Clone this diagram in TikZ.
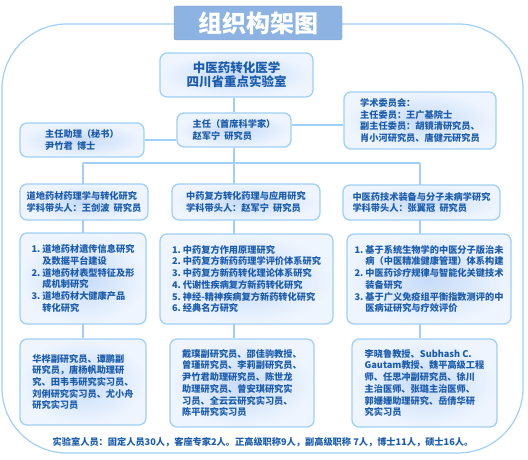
\documentclass[tikz,border=0pt]{standalone}
\usepackage{fontspec}
\setmainfont{Noto Sans CJK SC}
\usepackage{xcolor}
\usepackage{tikz}
\usetikzlibrary{backgrounds}
\definecolor{framecol}{RGB}{160,208,245}
\definecolor{txtcol}{RGB}{28,92,172}
\definecolor{titlecol}{RGB}{141,179,226}
\definecolor{boxin}{RGB}{198,219,249}
\definecolor{boxout}{RGB}{238,245,254}
\newcommand{\subind}{\hphantom{1.\ }}

\begin{document}
\begin{tikzpicture}[
  x=1pt, y=-1pt,
  unitbox/.style={draw=framecol, line width=1.3pt, rounded corners=7pt, inner color=boxin, outer color=boxout,
    text=txtcol, font=\fontsize{9.2}{11.7}\selectfont\bfseries, align=left, inner sep=0pt},
  link/.style={draw=framecol, line width=1.2pt}
]
\useasboundingbox (0,0) rectangle (528,460);

% title and top level
\node[fill=titlecol, draw=titlecol!90!black, rounded corners=2pt, minimum width=168pt, minimum height=34pt,
  text=white, font=\fontsize{24}{24}\selectfont\bfseries] (title) at (258,23) {组织构架图};
\node[unitbox, minimum width=153pt, minimum height=44pt, align=center,
  font=\fontsize{12.5}{14}\selectfont\bfseries] (lab) at (236.5,75) {中医药转化医学\\四川省重点实验室};
\node[unitbox, minimum width=114pt, minimum height=34pt] (director) at (234,130)
  {主任（首席科学家）\\赵军宁\ \ 研究员};
\node[unitbox, minimum width=124pt, minimum height=34pt] (assist) at (82,140)
  {主任助理（秘书）\\尹竹君\ \ 博士};
\node[unitbox, minimum width=152pt, minimum height=57pt] (committee) at (420,120.5)
  {学术委员会：\\主任委员：王广基院士\\副主任委员：胡镜清研究员、\\肖小河研究员、唐健元研究员};

% research directions
\node[unitbox, minimum width=128pt, minimum height=36pt] (r2a) at (84,202)
  {道地药材药理学与转化研究\\学科带头人：王剑波\ \ 研究员};
\node[unitbox, minimum width=148pt, minimum height=36pt] (r2b) at (246,202)
  {中药复方转化药理与应用研究\\学科带头人：赵军宁\ \ 研究员};
\node[unitbox, minimum width=157pt, minimum height=35pt] (r2c) at (421.5,202.5)
  {中医药技术装备与分子未病学研究\\学科带头人：张翼冠\ \ 研究员};

% research topics
\node[unitbox, minimum width=126pt, minimum height=91pt] (r3a) at (83,278.5)
  {1.\ 道地药材遗传信息研究\\\subind 及数据平台建设\\2.\ 道地药材表型特征及形\\\subind 成机制研究\\3.\ 道地药材大健康产品\\\subind 转化研究};
\node[unitbox, minimum width=173pt, minimum height=90pt] (r3b) at (246.5,279)
  {1.\ 中药复方作用原理研究\\2.\ 中药复方新药药理学评价体系研究\\3.\ 中药复方新药转化理论体系研究\\4.\ 代谢性疾病复方新药转化研究\\5.\ 神经-精神疾病复方新药转化研究\\6.\ 经典名方研究};
\node[unitbox, minimum width=164pt, minimum height=90pt] (r3c) at (429,279)
  {1.\ 基于系统生物学的中医分子版治未\\\subind 病（中医精准健康管理）体系构建\\2.\ 中医药诊疗规律与智能化关键技术\\\subind 装备研究\\3.\ 基于广义免疫组平衡指数测评的中\\\subind 医病证研究与疗效评价};

% staff
\node[unitbox, minimum width=126pt, minimum height=86pt] (r4a) at (83,382)
  {华桦副研究员、谭鹏副\\研究员，唐杨帆助理研\\究、田韦韦研究实习员、\\刘俐研究实习员、尤小舟\\研究实习员};
\node[unitbox, minimum width=144pt, minimum height=88pt] (r4b) at (242,383)
  {戴璞副研究员、邵佳驹教授、\\曾瑾研究员、李莉副研究员、\\尹竹君助理研究员、陈世龙\\助理研究员、曾安琪研究实\\习员、全云云研究实习员、\\陈平研究实习员};
\node[unitbox, minimum width=145pt, minimum height=88pt] (r4c) at (424.5,383)
  {李晓鲁教授、Subhash C.\\Gautam教授、魏平高级工程\\师、任思冲副研究员、徐川\\主治医师、张璐主治医师、\\郭姗姗助理研究、岳倩华研\\究实习员};

\node[text=txtcol, font=\fontsize{9.2}{10}\selectfont\bfseries, inner sep=0pt] (staff) at (263,442)
  {实验室人员：固定人员30人，客座专家2人。正高级职称9人，副高级职称 7人，博士11人，硕士16人。};

\coordinate (busL) at (83,163);
\coordinate (spine) at (234,163);
\coordinate (busR) at (420,163);

\begin{scope}[on background layer]
\draw[framecol, line width=1.2pt, rounded corners=65pt] (2,24) rectangle (523,453);
\draw[link] (lab.south -| spine) -- (director.north -| spine);
\draw[link] (assist.east) -- (assist.east -| director.west);
\draw[link] ([yshift=5pt]director.east) -- ([yshift=5pt]director.east -| committee.west);
\draw[link] (director.south -| spine) -- (spine);
\draw[link] (busL) -- (busR);
\draw[link] (busL) -- (r4a.north -| busL);
\draw[link] (spine) -- (r4b.north -| spine);
\draw[link] (busR) -- (r4c.north -| busR);
\end{scope}
\end{tikzpicture}
\end{document}
